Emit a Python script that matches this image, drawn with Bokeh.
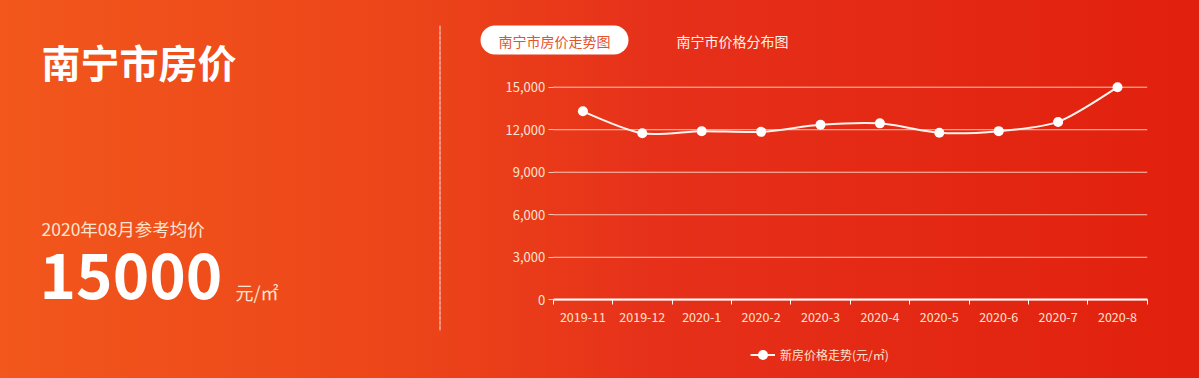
import numpy as np
from bokeh.plotting import figure
from bokeh.models import (Range1d, FixedTicker, NumeralTickFormatter, Label,
                          BoxAnnotation, Legend, LegendItem)
from bokeh.embed import file_html
from bokeh.resources import INLINE

# ---- data ----
months = ["2019-11", "2019-12", "2020-1", "2020-2", "2020-3",
          "2020-4", "2020-5", "2020-6", "2020-7", "2020-8"]
prices = [13300, 11750, 11900, 11850, 12350, 12450, 11780, 11900, 12550, 15000]
y_ticks = [0, 3000, 6000, 9000, 12000, 15000]

title_text = "南宁市房价"
sub_text = "2020年08月参考均价"
big_text = "15000"
unit_text = "元/㎡"
tab_texts = ["南宁市房价走势图", "南宁市价格分布图"]
series_name = "新房价格走势(元/㎡)"

# ---- layout (pixels) ----
W, H = 1199, 378
FONT = "Noto Sans CJK SC"
CREAM = "#fde4cf"
GRID = "#f8c8b6"

n = len(months)
X0_PX, X1_PX = 552.7, 1146.7      # pixel of category axis start / end
Y0_PX, YT_PX = 299.3, 86.7        # pixel of value 0 / value of top tick
y_top = y_ticks[-1]
ppx = (X1_PX - X0_PX) / n
ppy = (Y0_PX - YT_PX) / y_top
x_start = -X0_PX / ppx
x_end = n + (W - X1_PX) / ppx
y_start = -(H - Y0_PX) / ppy
y_end = y_top + YT_PX / ppy

p = figure(width=W, height=H, output_backend="svg", toolbar_location=None,
           x_range=Range1d(x_start, x_end), y_range=Range1d(y_start, y_end),
           min_border=0)
p.styles = {"background": "linear-gradient(90deg, #f2571c 0%, #ec4419 35%, #e6301a 55%, #e1200d 100%)"}
p.background_fill_color = None
p.border_fill_color = None
p.outline_line_color = None

# x axis: labels at category centres, ticks at boundaries
centres = [i + 0.5 for i in range(n)]
xa = p.xaxis[0]
xa.fixed_location = 0
xa.bounds = (0, n)
xa.ticker = FixedTicker(ticks=centres, minor_ticks=list(range(n + 1)))
xa.major_label_overrides = {c: m for c, m in zip(centres, months)}
xa.major_tick_in = 0
xa.major_tick_out = 0
xa.minor_tick_in = 0
xa.minor_tick_out = 5
xa.minor_tick_line_color = "white"
xa.axis_line_color = "white"
xa.axis_line_width = 2
xa.major_label_text_color = CREAM
xa.major_label_text_font = FONT
xa.major_label_text_font_size = "12.5px"
xa.major_label_standoff = 7

ya = p.yaxis[0]
ya.fixed_location = 0
ya.bounds = (0, y_top)
ya.ticker = FixedTicker(ticks=y_ticks)
ya.formatter = NumeralTickFormatter(format="0,0")
ya.axis_line_color = None
ya.major_tick_in = 0
ya.major_tick_out = 5
ya.major_tick_line_color = GRID
ya.minor_tick_line_color = None
ya.major_label_text_color = CREAM
ya.major_label_text_font = FONT
ya.major_label_text_font_size = "13px"
ya.major_label_standoff = 3

# horizontal grid lines spanning only the category extent
p.xgrid.visible = False
p.ygrid.visible = False
p.segment(x0=[0] * len(y_ticks), x1=[n] * len(y_ticks), y0=y_ticks, y1=y_ticks,
          line_color=GRID, line_width=1)

# smooth line through the data points (bezier segments)
xs = np.array(centres, dtype=float)
ys = np.array(prices, dtype=float)
sm = 0.13
x0, y0, x1, y1, cx0, cy0, cx1, cy1 = [], [], [], [], [], [], [], []
for i in range(n - 1):
    x0.append(xs[i]); y0.append(ys[i]); x1.append(xs[i + 1]); y1.append(ys[i + 1])
    if i == 0:
        cx0.append(xs[i]); cy0.append(ys[i])
    else:
        cx0.append(xs[i] + sm * (xs[i + 1] - xs[i - 1]))
        cy0.append(ys[i] + sm * (ys[i + 1] - ys[i - 1]))
    if i + 1 == n - 1:
        cx1.append(xs[i + 1]); cy1.append(ys[i + 1])
    else:
        cx1.append(xs[i + 1] - sm * (xs[i + 2] - xs[i]))
        cy1.append(ys[i + 1] - sm * (ys[i + 2] - ys[i]))

bez = p.bezier(x0=x0, y0=y0, x1=x1, y1=y1, cx0=cx0, cy0=cy0, cx1=cx1, cy1=cy1,
               line_color="#fff3ec", line_width=2)
pts = p.scatter(xs, ys, size=10, fill_color="white", line_color=None)

legend = Legend(items=[LegendItem(label=series_name, renderers=[bez, pts])],
                location=(750, 11),
                orientation="horizontal", padding=0, margin=0, spacing=0,
                glyph_width=25, glyph_height=25, label_height=12,
                label_standoff=5, label_text_font=FONT, label_text_font_size="12px",
                label_text_color=CREAM, background_fill_alpha=0,
                border_line_color=None)
p.add_layout(legend, "center")

# ---- left panel texts ----
p.add_layout(Label(x=41, y=60, x_units="canvas", y_units="canvas", text=title_text,
                   text_font=FONT, text_font_style="bold", text_font_size="39px",
                   text_color="white", text_baseline="middle", text_align="left"))
p.add_layout(Label(x=41, y=228, x_units="canvas", y_units="canvas", text=sub_text,
                   text_font=FONT, text_font_size="17.5px",
                   text_color=CREAM, text_baseline="middle", text_align="left"))
p.add_layout(Label(x=39, y=275, x_units="canvas", y_units="canvas", text=big_text,
                   text_font=FONT, text_font_style="bold", text_font_size="62px",
                   text_color="white", text_baseline="alphabetic", text_align="left"))
p.add_layout(Label(x=235, y=291, x_units="canvas", y_units="canvas", text=unit_text,
                   text_font=FONT, text_font_size="18px",
                   text_color=CREAM, text_baseline="alphabetic", text_align="left"))

# dashed divider
p.add_layout(BoxAnnotation(left=439.5, right=439.5, top=25, bottom=330,
                           left_units="canvas", right_units="canvas",
                           top_units="canvas", bottom_units="canvas",
                           fill_alpha=0, line_color="white", line_alpha=0.7,
                           line_dash="3 2", line_width=1))

# tabs
p.add_layout(BoxAnnotation(left=480, right=628, top=25, bottom=54,
                           left_units="canvas", right_units="canvas",
                           top_units="canvas", bottom_units="canvas",
                           fill_color="white", fill_alpha=1, line_color=None,
                           border_radius=15))
p.add_layout(Label(x=554, y=40, x_units="canvas", y_units="canvas", text=tab_texts[0],
                   text_font=FONT, text_font_size="14px",
                   text_color="#e5532a", text_baseline="middle", text_align="center"))
p.add_layout(Label(x=732, y=40, x_units="canvas", y_units="canvas", text=tab_texts[1],
                   text_font=FONT, text_font_size="14px",
                   text_color="#fff4ee", text_baseline="middle", text_align="center"))

open("out.html", "w").write(file_html(p, INLINE))
